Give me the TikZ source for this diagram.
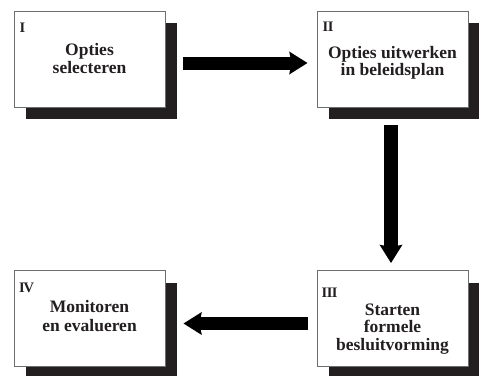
\documentclass[tikz,border=0pt]{standalone}
\usepackage{fontspec}
\setmainfont{Liberation Serif}
\usetikzlibrary{arrows.meta,shadows}
\definecolor{shadowcol}{HTML}{231F20}
\definecolor{boxedge}{HTML}{6D6E71}
\tikzset{
  stagebox/.style={draw=boxedge, line width=0.9pt, fill=white, minimum width=151pt, minimum height=96pt, inner sep=0pt,
    general shadow={fill=shadowcol, shadow xshift=12pt, shadow yshift=-12pt}},
  lbl/.style={font=\bfseries\fontsize{17.5}{19}\selectfont, anchor=base, inner sep=0pt, text=shadowcol},
  num/.style={font=\bfseries\fontsize{14.5}{15}\selectfont, anchor=base west, inner sep=0pt, text=shadowcol},
  flow/.style={line width=13pt, draw=black, -{Stealth[inset=2pt,length=18pt,width=22pt]}}
}
\begin{document}
\begin{tikzpicture}[x=1pt,y=-1pt]
\useasboundingbox[fill=white] (0,0) rectangle (479,375);
\node[stagebox] (b1) at (89.5,59) {};
\node[stagebox] (b2) at (392.5,59) {};
\node[stagebox] (b3) at (392.5,318.5) {};
\node[stagebox] (b4) at (89.5,318.5) {};
% numerals
\node[num] (n1) at (19.5,32) {I};
\node[num] (n2) at (322.5,31) {I\kern-0.6pt I};
\node[num] (n3) at (321.5,297) {I\kern-0.6pt I\kern-0.6pt I};
\node[num] (n4) at (19,292) {I\kern-1.2pt V};
% texts
\node[lbl] (t1a) at (89.5,55) {Opties};
\node[lbl] (t1b) at (89.5,73) {selecteren};
\node[lbl] (t2a) at (392.5,58) {Opties uitwerken};
\node[lbl] (t2b) at (392.5,75) {in beleidsplan};
\node[lbl] (t3a) at (392.5,315) {Starten};
\node[lbl] (t3b) at (392.5,332.5) {formele};
\node[lbl] (t3c) at (392.5,350) {besluitvorming};
\node[lbl] (t4a) at (89.5,312) {Monitoren};
\node[lbl] (t4b) at (89.5,331) {en evalueren};
% arrows
\draw[flow, shorten <=18pt, shorten >=9pt] ([yshift=-4pt]b1.east) -- ([yshift=-4pt]b2.west);
\draw[flow, line width=14pt, shorten <=18pt, shorten >=7pt] ([xshift=-1.5pt]b2.south) -- ([xshift=-1.5pt]b3.north);
\draw[flow, shorten <=9pt, shorten >=18pt] ([yshift=-5pt]b3.west) -- ([yshift=-5pt]b4.east);
\end{tikzpicture}
\end{document}
